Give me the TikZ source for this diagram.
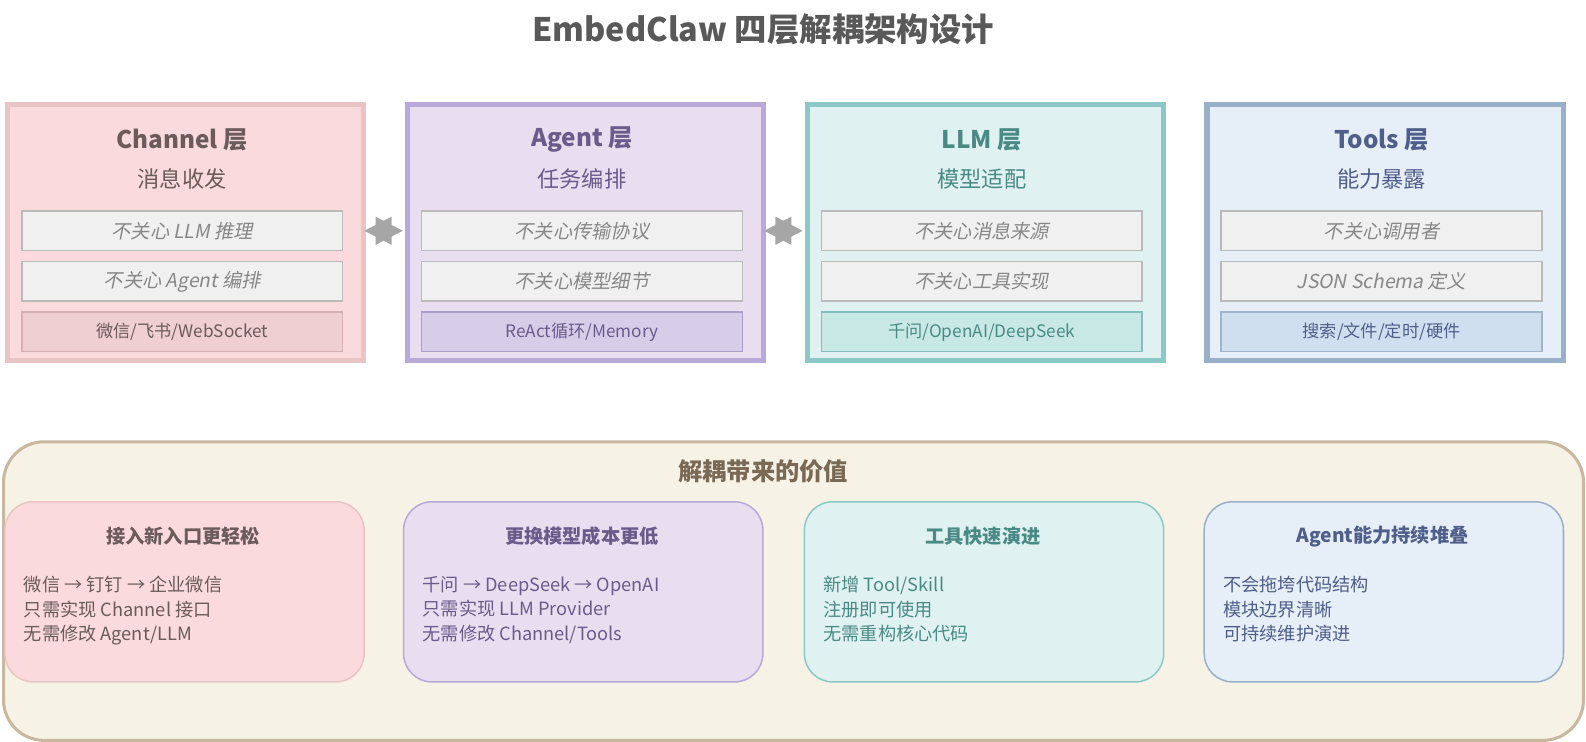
\documentclass[tikz,border=0pt]{standalone}
\usepackage{fontspec}
\setmainfont{Noto Sans CJK SC}[ItalicFont={Noto Sans CJK SC},ItalicFeatures={FakeSlant=0.2}]
\usetikzlibrary{arrows.meta}
\definecolor{chF}{HTML}{FADADD}\definecolor{chB}{HTML}{E8C4C4}\definecolor{chT}{HTML}{6B5B5B}\definecolor{chF2}{HTML}{F0CFD3}\definecolor{chB2}{HTML}{D4AEB0}
\definecolor{agF}{HTML}{E8DEF0}\definecolor{agB}{HTML}{B8A9D9}\definecolor{agT}{HTML}{6B5B8B}\definecolor{agF2}{HTML}{D8CDE8}\definecolor{agB2}{HTML}{A9A0C8}
\definecolor{llF}{HTML}{DFF2F1}\definecolor{llB}{HTML}{8CC8C8}\definecolor{llT}{HTML}{4A8A85}\definecolor{llF2}{HTML}{C8E8E5}\definecolor{llB2}{HTML}{80BFBC}
\definecolor{toF}{HTML}{E6EEF7}\definecolor{toB}{HTML}{98B0C8}\definecolor{toT}{HTML}{4F5F8A}\definecolor{toF2}{HTML}{D0DFEF}\definecolor{toB2}{HTML}{A0B4CC}
\definecolor{bgF}{HTML}{F7F2E6}\definecolor{bgB}{HTML}{C8B8A0}\definecolor{bgT}{HTML}{7A6A55}
\begin{document}
\begin{tikzpicture}[x=1pt,y=-1pt,
 layer/.style={draw=#1,line width=5pt,minimum width=352pt,minimum height=253pt,anchor=north west},
 item/.style={draw=black!27,fill=black!6,line width=1.5pt,minimum width=317pt,minimum height=39pt,font=\fontsize{19}{19}\selectfont\itshape,text=black!47},
 tag/.style={line width=1.5pt,minimum width=317pt,minimum height=39pt,font=\fontsize{17}{17}\selectfont},
 card/.style={draw=#1,line width=1.5pt,rounded corners=28pt,minimum width=355pt,minimum height=178pt,anchor=north west},
 conn/.style={fill=black!35}]
\fill[white] (0,0) rectangle (1586,742);
\node[font=\fontsize{32}{32}\selectfont\bfseries,text=black!65] (title) at (754,29) {EmbedClaw 四层解耦架构设计};
\foreach \n/\x/\F/\B/\T/\ti/\su/\a/\b in {
 ch/3/chF/chB/chT/{Channel 层}/消息收发/{不关心 LLM 推理}/{不关心 Agent 编排},
 ag/398/agF/agB/agT/{Agent 层}/任务编排/不关心传输协议/不关心模型细节,
 ll/793/llF/llB/llT/{LLM 层}/模型适配/不关心消息来源/不关心工具实现,
 to/1188/toF/toB/toT/{Tools 层}/能力暴露/不关心调用者/{JSON Schema 定义}}{
 \node[layer=\B,fill=\F] (\n) at (\x+2,101) {};
 \node[font=\fontsize{24}{24}\selectfont\bfseries,text=\T] (\n t) at (\x+177,138) {\ti};
 \node[font=\fontsize{22}{22}\selectfont,text=\T] (\n s) at (\x+177,177) {\su};
 \node[item] (\n a) at (\x+177,228) {\a};
 \node[item] (\n b) at (\x+177,278) {\b};
}
\node[tag,draw=chB2,fill=chF2,text=chT] (chc) at (180,328) {微信/飞书/WebSocket};
\node[tag,draw=agB2,fill=agF2,text=agT] (agc) at (575,328) {ReAct循环/Memory};
\node[tag,draw=llB2,fill=llF2,text=llT] (llc) at (970,328) {千问/OpenAI/DeepSeek};
\node[tag,draw=toB2,fill=toF2,text=toT] (toc) at (1365,328) {搜索/文件/定时/硬件};
\coordinate (m1) at (379,228);
\coordinate (m2) at (774,228);
\foreach \m in {m1,m2}{
 \fill[conn] ([xshift=-19pt]\m) -- ([xshift=8pt,yshift=-14pt]\m) -- ([xshift=8pt,yshift=14pt]\m) -- cycle;
 \fill[conn] ([xshift=19pt]\m) -- ([xshift=-8pt,yshift=-14pt]\m) -- ([xshift=-8pt,yshift=14pt]\m) -- cycle;
}
\node[draw=bgB,fill=bgF,line width=3pt,rounded corners=40pt,minimum width=1561pt,minimum height=295pt,anchor=north west] (val) at (2,435) {};
\node[font=\fontsize{24}{24}\selectfont\bfseries,text=bgT] (valt) at (754,466) {解耦带来的价值};
\foreach \n/\x/\F/\B/\T/\ti/\a/\b/\c in {
 v1/4/chF/chB/chT/接入新入口更轻松/{微信 → 钉钉 → 企业微信}/{只需实现 Channel 接口}/{无需修改 Agent/LLM},
 v2/398/agF/agB/agT/更换模型成本更低/{千问 → DeepSeek → OpenAI}/{只需实现 LLM Provider}/{无需修改 Channel/Tools},
 v3/794/llF/llB/llT/工具快速演进/{新增 Tool/Skill}/注册即可使用/无需重构核心代码,
 v4/1189/toF/toB/toT/{Agent能力持续堆叠}/不会拖垮代码结构/模块边界清晰/可持续维护演进}{
 \node[card=\B,fill=\F] (\n) at (\x,495) {};
 \node[font=\fontsize{19}{19}\selectfont\bfseries,text=\T] (\n t) at (\x+177,530) {\ti};
 \node[font=\fontsize{18}{24}\selectfont,text=\T,align=left,anchor=north west] (\n x) at (\x+16,566) {\a\\\b\\\c};
}
\pgfresetboundingbox
\path[use as bounding box] (0,0) rectangle (1567,733);
\end{tikzpicture}
\end{document}
